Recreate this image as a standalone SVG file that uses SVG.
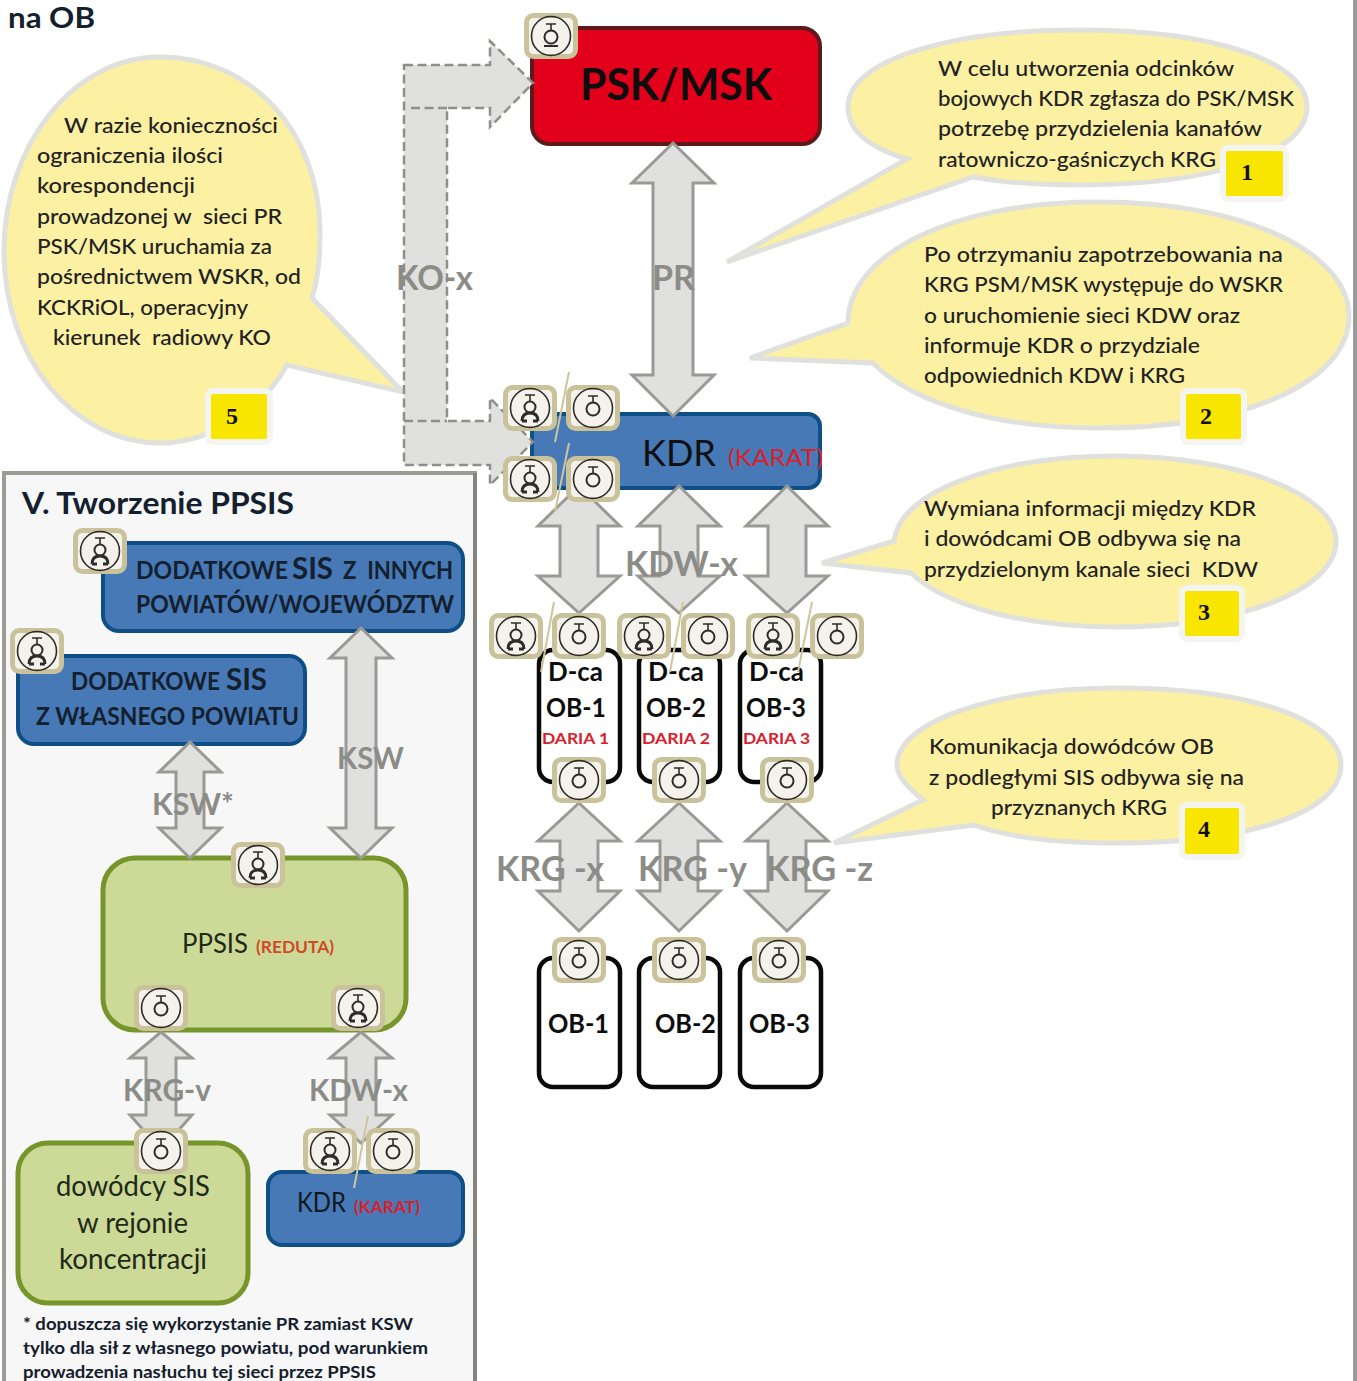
<svg xmlns="http://www.w3.org/2000/svg" width="1357" height="1381" viewBox="0 0 1357 1381">
<style>
text{font-family:"Lato","Noto Sans","Liberation Sans",sans-serif;white-space:pre}
.b{fill:#fcf0a2;stroke:#e0e0dc;stroke-width:5;stroke-linejoin:miter}
.bt{font-size:22px;fill:#222;font-weight:500}
.blue{fill:#4679b6;stroke:#0f4f88;stroke-width:4}
.green{fill:#cdd997;stroke:#76962c;stroke-width:5}
.ob{fill:#fff;stroke:#0a0a0a;stroke-width:4.5}
.arr{fill:#e0e0de;stroke:#999995;stroke-width:3;stroke-linejoin:miter}
.dash{stroke:#8f8f8a;stroke-width:2.500;stroke-dasharray:9 4.500;fill:none}
.lab{font-size:34px;font-weight:700;fill:#8c8c87}
.lab2{font-size:31px}
.dk{fill:#14202e;font-weight:700}
.bk{fill:#0d0d0d}
.red{fill:#d8212c;font-weight:700}
.badge{fill:#f8e600;stroke:#f4f4f1;stroke-width:6}
.num{font-family:"Liberation Serif",serif;font-size:24px;font-weight:700;fill:#111;text-anchor:middle}
.slash{stroke:#cdc59b;stroke-width:2;fill:none}
.fr{fill:#f4f2ea;stroke:#c9c29b;stroke-width:5}
.ic{fill:none;stroke:#2c2c2c;stroke-width:1.600}
.ic2{fill:none;stroke:#2c2c2c;stroke-width:2}
</style>
<defs>
<symbol id="ra" overflow="visible"><rect class="fr" x="-24.500" y="-20.500" width="49" height="41" rx="7"/><circle class="ic" r="19.500"/><path class="ic" d="M-5-13H5M0-13V-7"/><circle class="ic2" cy="-1" r="5.500"/><path d="M-8 13Q-8 5 0 5Q8 5 8 13M-8 13H-3M3 13H8" fill="none" stroke="#2c2c2c" stroke-width="2.800"/></symbol>
<symbol id="rb" overflow="visible"><rect class="fr" x="-24.500" y="-20.500" width="49" height="41" rx="7"/><circle class="ic" r="19.500"/><path class="ic" d="M-5-12H5M0-12V-6"/><circle class="ic2" cy="1" r="6.500"/></symbol>
<symbol id="rc" overflow="visible"><rect class="fr" x="-24.500" y="-20.500" width="49" height="41" rx="7"/><circle class="ic" r="19.500"/><path class="ic" d="M-5-12H5M0-12V-6"/><path class="ic2" d="M-7 10H7"/><circle class="ic2" cy="1" r="6.500"/></symbol>
</defs>
<rect width="1357" height="1381" fill="#fff"/>
<rect x="1353" y="0" width="4" height="1381" fill="#9a9a9a"/>
<text x="8" y="28" font-size="28" class="dk" textLength="87" lengthAdjust="spacingAndGlyphs">na OB</text>

<g id="bubble1"><path class="b" d="M727 262L907 159C860 145 848 125 848 107C848 60 950 30 1078 30C1210 30 1307 60 1307 107C1307 155 1210 185 1078 185C1040 185 1000 182 973 177Z"/>
<text class="bt" x="938" y="76" textLength="296" lengthAdjust="spacingAndGlyphs">W celu utworzenia odcinków</text>
<text class="bt" x="938" y="106" textLength="356" lengthAdjust="spacingAndGlyphs">bojowych KDR zgłasza do PSK/MSK</text>
<text class="bt" x="938" y="136" textLength="324" lengthAdjust="spacingAndGlyphs">potrzebę przydzielenia kanałów</text>
<text class="bt" x="938" y="167" textLength="278" lengthAdjust="spacingAndGlyphs">ratowniczo-gaśniczych KRG</text>
<rect class="badge" x="1223" y="148" width="63" height="51" rx="5"/><text class="num" x="1247" y="180">1</text></g>

<g id="bubble2"><path class="b" d="M750 358L848 323C848 255 950 202 1098 202C1250 202 1349 255 1349 316C1349 380 1250 428 1098 428C1000 428 915 405 873 363Z"/>
<text class="bt" x="924" y="262" textLength="359" lengthAdjust="spacingAndGlyphs">Po otrzymaniu zapotrzebowania na</text>
<text class="bt" x="924" y="292" textLength="359" lengthAdjust="spacingAndGlyphs">KRG PSM/MSK występuje do WSKR</text>
<text class="bt" x="924" y="323" textLength="316" lengthAdjust="spacingAndGlyphs">o uruchomienie sieci KDW oraz</text>
<text class="bt" x="924" y="353" textLength="276" lengthAdjust="spacingAndGlyphs">informuje KDR o przydziale</text>
<text class="bt" x="924" y="383" textLength="261" lengthAdjust="spacingAndGlyphs">odpowiednich KDW i KRG</text>
<rect class="badge" x="1183" y="391" width="61" height="51" rx="5"/><text class="num" x="1206" y="424">2</text></g>

<g id="bubble3"><path class="b" d="M822 563L894 541C900 490 1000 456 1115 456C1240 456 1336 495 1336 541C1336 590 1240 627 1115 627C1020 627 945 605 911 573Z"/>
<text class="bt" x="924" y="516" textLength="332" lengthAdjust="spacingAndGlyphs">Wymiana informacji między KDR</text>
<text class="bt" x="924" y="546" textLength="317" lengthAdjust="spacingAndGlyphs">i dowódcami OB odbywa się na</text>
<text class="bt" x="924" y="577" textLength="334" lengthAdjust="spacingAndGlyphs">przydzielonym kanale sieci  KDW</text>
<rect class="badge" x="1182" y="588" width="60" height="51" rx="5"/><text class="num" x="1204" y="620">3</text></g>

<g id="bubble4"><path class="b" d="M834 843L923 800C905 785 897 775 897 765C897 720 1000 688 1118 688C1250 688 1341 720 1341 765C1341 812 1250 843 1118 843C1060 843 1010 838 974 825Z"/>
<text class="bt" x="929" y="754" textLength="285" lengthAdjust="spacingAndGlyphs">Komunikacja dowódców OB</text>
<text class="bt" x="929" y="785" textLength="315" lengthAdjust="spacingAndGlyphs">z podległymi SIS odbywa się na</text>
<text class="bt" x="991" y="815" textLength="176" lengthAdjust="spacingAndGlyphs">przyznanych KRG</text>
<rect class="badge" x="1182" y="805" width="60" height="52" rx="5"/><text class="num" x="1204" y="837">4</text></g>

<g id="bubble5"><path class="b" d="M403 392L312 298C318 280 320 255 320 233C320 130 250 57 160 57C70 57 4 150 4 250C4 360 75 443 160 443C210 443 262 410 287 365Z"/>
<text class="bt" x="64" y="133" textLength="214" lengthAdjust="spacingAndGlyphs">W razie konieczności</text>
<text class="bt" x="37" y="163" textLength="186" lengthAdjust="spacingAndGlyphs">ograniczenia ilości</text>
<text class="bt" x="37" y="193" textLength="158" lengthAdjust="spacingAndGlyphs">korespondencji</text>
<text class="bt" x="37" y="224" textLength="245" lengthAdjust="spacingAndGlyphs">prowadzonej w  sieci PR</text>
<text class="bt" x="37" y="254" textLength="235" lengthAdjust="spacingAndGlyphs">PSK/MSK uruchamia za</text>
<text class="bt" x="37" y="284" textLength="264" lengthAdjust="spacingAndGlyphs">pośrednictwem WSKR, od</text>
<text class="bt" x="37" y="315" textLength="211" lengthAdjust="spacingAndGlyphs">KCKRiOL, operacyjny</text>
<text class="bt" x="53" y="345" textLength="218" lengthAdjust="spacingAndGlyphs">kierunek  radiowy KO</text>
<rect class="badge" x="208" y="391" width="62" height="51" rx="5"/><text class="num" x="232" y="424">5</text></g>

<g id="panel"><rect x="4" y="473" width="471" height="920" fill="#f7f7f7" stroke="#9c9c97" stroke-width="4"/>
<rect x="473" y="473" width="4" height="908" fill="#85857f"/>
<text x="22" y="514" font-size="30" class="dk" textLength="272" lengthAdjust="spacingAndGlyphs">V. Tworzenie PPSIS</text>
<text x="23" y="1330" font-size="17" class="dk" textLength="390" lengthAdjust="spacingAndGlyphs">* dopuszcza się wykorzystanie PR zamiast KSW</text>
<text x="23" y="1354" font-size="17" class="dk" textLength="405" lengthAdjust="spacingAndGlyphs">tylko dla sił z własnego powiatu, pod warunkiem</text>
<text x="23" y="1378" font-size="17" class="dk" textLength="353" lengthAdjust="spacingAndGlyphs">prowadzenia nasłuchu tej sieci przez PPSIS</text></g>

<g id="node-psk"><rect x="532" y="28" width="288" height="116" rx="18" fill="#e2001a" stroke="#5c1a1a" stroke-width="4"/>
<text x="580" y="100" font-size="44" class="dk bk" textLength="192" lengthAdjust="spacingAndGlyphs">PSK/MSK</text></g>
<g id="node-kdr"><rect class="blue" x="532" y="414" width="288" height="74" rx="12"/>
<text x="642" y="466" font-size="37" fill="#101010" textLength="74" lengthAdjust="spacingAndGlyphs">KDR</text>
<text x="728" y="466" font-size="24" fill="#d8212c" textLength="95" lengthAdjust="spacingAndGlyphs">(KARAT)</text></g>

<g id="node-dca1"><rect class="ob" x="539" y="650" width="81" height="132" rx="14"/>
<text x="548" y="681" font-size="26" class="dk bk" textLength="55" lengthAdjust="spacingAndGlyphs">D-ca</text>
<text x="546" y="717" font-size="26" class="dk bk" textLength="60" lengthAdjust="spacingAndGlyphs">OB-1</text>
<text x="542" y="744" font-size="16" class="red" textLength="67" lengthAdjust="spacingAndGlyphs">DARIA 1</text></g>
<g id="node-dca2"><rect class="ob" x="639" y="650" width="81" height="132" rx="14"/>
<text x="648" y="681" font-size="26" class="dk bk" textLength="56" lengthAdjust="spacingAndGlyphs">D-ca</text>
<text x="646" y="717" font-size="26" class="dk bk" textLength="60" lengthAdjust="spacingAndGlyphs">OB-2</text>
<text x="642" y="744" font-size="16" class="red" textLength="68" lengthAdjust="spacingAndGlyphs">DARIA 2</text></g>
<g id="node-dca3"><rect class="ob" x="740" y="650" width="81" height="132" rx="14"/>
<text x="749" y="681" font-size="26" class="dk bk" textLength="55" lengthAdjust="spacingAndGlyphs">D-ca</text>
<text x="746" y="717" font-size="26" class="dk bk" textLength="60" lengthAdjust="spacingAndGlyphs">OB-3</text>
<text x="743" y="744" font-size="16" class="red" textLength="67" lengthAdjust="spacingAndGlyphs">DARIA 3</text></g>
<g id="node-ob1"><rect class="ob" x="539" y="958" width="81" height="129" rx="14"/><text x="548" y="1033" font-size="26" class="dk bk" textLength="61" lengthAdjust="spacingAndGlyphs">OB-1</text></g>
<g id="node-ob2"><rect class="ob" x="639" y="958" width="81" height="129" rx="14"/><text x="655" y="1033" font-size="26" class="dk bk" textLength="61" lengthAdjust="spacingAndGlyphs">OB-2</text></g>
<g id="node-ob3"><rect class="ob" x="740" y="958" width="81" height="129" rx="14"/><text x="749" y="1033" font-size="26" class="dk bk" textLength="61" lengthAdjust="spacingAndGlyphs">OB-3</text></g>

<g id="node-sis-inne"><rect class="blue" x="103" y="543" width="360" height="88" rx="16"/>
<text x="136" y="579" font-size="24" class="dk" textLength="152" lengthAdjust="spacingAndGlyphs">DODATKOWE</text>
<text x="292" y="579" font-size="31" class="dk" textLength="41" lengthAdjust="spacingAndGlyphs">SIS</text>
<text x="343" y="579" font-size="24" class="dk" textLength="110" lengthAdjust="spacingAndGlyphs">Z  INNYCH</text>
<text x="136" y="613" font-size="25" class="dk" textLength="318" lengthAdjust="spacingAndGlyphs">POWIATÓW/WOJEWÓDZTW</text></g>
<g id="node-sis-wlasny"><rect class="blue" x="18" y="656" width="287" height="88" rx="16"/>
<text x="71" y="690" font-size="24" class="dk" textLength="149" lengthAdjust="spacingAndGlyphs">DODATKOWE</text>
<text x="226" y="690" font-size="31" class="dk" textLength="41" lengthAdjust="spacingAndGlyphs">SIS</text>
<text x="36" y="725" font-size="25" class="dk" textLength="263" lengthAdjust="spacingAndGlyphs">Z WŁASNEGO POWIATU</text></g>
<g id="node-ppsis"><rect class="green" x="103" y="858" width="303" height="172" rx="32"/>
<text x="182" y="953" font-size="26" fill="#1e2a18" textLength="66" lengthAdjust="spacingAndGlyphs">PPSIS</text>
<text x="256" y="953" font-size="17" font-weight="700" fill="#cf4a2a" textLength="78" lengthAdjust="spacingAndGlyphs">(REDUTA)</text></g>
<g id="node-dowodcy"><rect class="green" x="18" y="1143" width="230" height="160" rx="30"/>
<text x="56" y="1196" font-size="28" fill="#1e2a18" textLength="154" lengthAdjust="spacingAndGlyphs">dowódcy SIS</text>
<text x="77" y="1233" font-size="28" fill="#1e2a18" textLength="111" lengthAdjust="spacingAndGlyphs">w rejonie</text>
<text x="59" y="1269" font-size="28" fill="#1e2a18" textLength="148" lengthAdjust="spacingAndGlyphs">koncentracji</text></g>
<g id="node-kdr2"><rect class="blue" x="268" y="1172" width="195" height="73" rx="14"/>
<text x="297" y="1212" font-size="27" fill="#101820" textLength="49" lengthAdjust="spacingAndGlyphs">KDR</text>
<text x="354" y="1213" font-size="17" class="red" textLength="66" lengthAdjust="spacingAndGlyphs">(KARAT)</text></g>

<g id="connectors">
<path d="M404 65H490V41L533 83L490 127V108H447V421H490V398L533 442L490 485V465H404Z" fill="#e0e0de"/>
<path class="dash" d="M404 65H490V41L533 83L490 127V108H447V421H490V398L533 442L490 485V465H404Z"/>
<path class="dash" d="M411 108H447M404 421H447"/>
<path class="arr" d="M673 143L714 183H693V375H714L673 416L632 375H653V183H632Z"/>
<path class="arr" d="M579 486L620 526H598V576H620L579 613L538 576H560V526H538Z"/>
<path class="arr" d="M679 486L720 526H698V576H720L679 613L638 576H660V526H638Z"/>
<path class="arr" d="M787 486L828 526H806V576H828L787 613L746 576H768V526H746Z"/>
<path class="arr" d="M579 803L620 841H598V891H620L579 931L538 891H560V841H538Z"/>
<path class="arr" d="M679 803L720 841H698V891H720L679 931L638 891H660V841H638Z"/>
<path class="arr" d="M787 803L828 841H806V891H828L787 931L746 891H768V841H746Z"/>
<path class="arr" d="M361 628L392 658H376V828H392L361 858L330 828H346V658H330Z"/>
<path class="arr" d="M190 742L221 772H204V828H221L190 858L159 828H176V772H159Z"/>
<path class="arr" d="M161 1032L192 1058H176V1115H192L161 1150L130 1115H146V1058H130Z"/>
<path class="arr" d="M361 1032L392 1058H376V1115H392L361 1143L330 1115H346V1058H330Z"/>
<text class="lab" x="396" y="290" textLength="77" lengthAdjust="spacingAndGlyphs">KO-x</text>
<text class="lab" x="652" y="290" textLength="43" lengthAdjust="spacingAndGlyphs">PR</text>
<text class="lab" x="625" y="576" textLength="113" lengthAdjust="spacingAndGlyphs">KDW-x</text>
<text class="lab" x="496" y="881" textLength="108" lengthAdjust="spacingAndGlyphs">KRG -x</text>
<text class="lab" x="638" y="881" textLength="109" lengthAdjust="spacingAndGlyphs">KRG -y</text>
<text class="lab" x="766" y="881" textLength="107" lengthAdjust="spacingAndGlyphs">KRG -z</text>
<text class="lab lab2" x="337" y="769" textLength="67" lengthAdjust="spacingAndGlyphs">KSW</text>
<text class="lab lab2" x="152" y="815" textLength="82" lengthAdjust="spacingAndGlyphs">KSW*</text>
<text class="lab lab2" x="123" y="1101" textLength="88" lengthAdjust="spacingAndGlyphs">KRG-v</text>
<text class="lab lab2" x="309" y="1101" textLength="99" lengthAdjust="spacingAndGlyphs">KDW-x</text>
</g>

<g id="radios">
<use href="#rc" x="551" y="36"/>
<use href="#ra" x="530" y="408"/><use href="#rb" x="593" y="408"/>
<use href="#ra" x="530" y="479"/><use href="#rb" x="593" y="479"/>
<path class="slash" d="M569 372L555 442M569 443L555 512"/>
<use href="#ra" x="516" y="636"/><use href="#rb" x="579" y="636"/>
<use href="#ra" x="644" y="636"/><use href="#rb" x="708" y="636"/>
<use href="#ra" x="773" y="636"/><use href="#rb" x="837" y="636"/>
<path class="slash" d="M554 602L541 672M683 602L670 672M812 602L798 672"/>
<use href="#rb" x="579" y="780"/><use href="#rb" x="679" y="780"/><use href="#rb" x="787" y="780"/>
<use href="#rb" x="579" y="960"/><use href="#rb" x="679" y="960"/><use href="#rb" x="779" y="960"/>
<use href="#ra" x="100" y="551"/><use href="#ra" x="37" y="651"/><use href="#ra" x="258" y="865"/>
<use href="#rb" x="161" y="1008"/><use href="#ra" x="358" y="1008"/>
<use href="#rb" x="161" y="1151"/><use href="#ra" x="330" y="1151"/><use href="#rb" x="393" y="1151"/>
<path class="slash" d="M368 1116L354 1188"/>
</g>
</svg>
